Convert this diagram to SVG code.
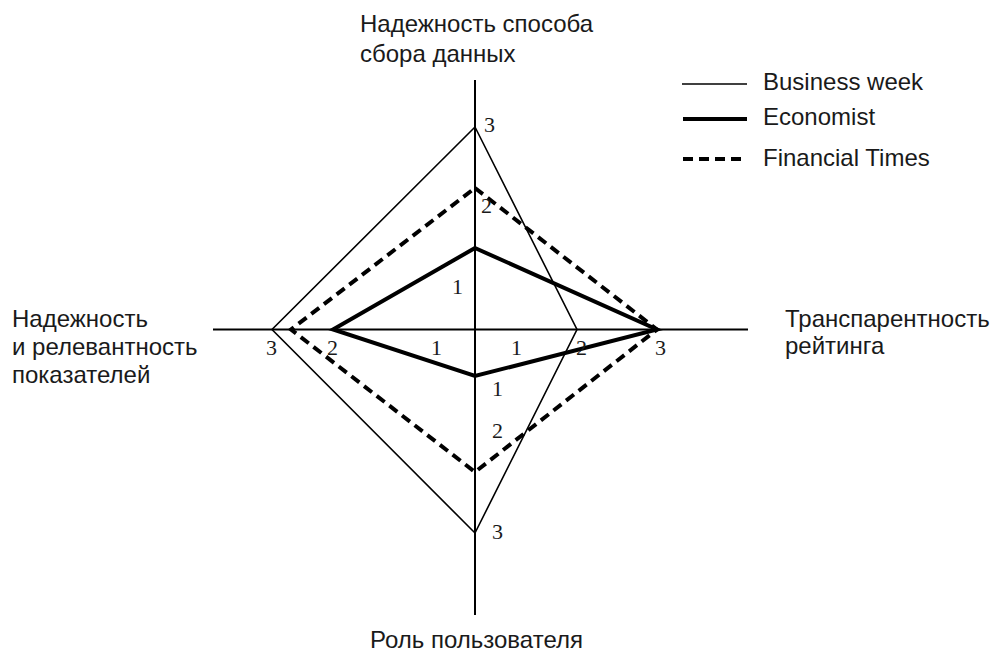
<svg xmlns="http://www.w3.org/2000/svg" width="997" height="653" viewBox="0 0 997 653">
<style>
.lbl{font-family:"Liberation Sans",Arial,sans-serif;font-size:24px;fill:#1a1a1a}
.num{font-family:"Liberation Serif","Times New Roman",serif;font-size:22px;fill:#1a1a1a}
.bw{fill:none;stroke:#000;stroke-width:1.6;stroke-linejoin:miter}
.ec{fill:none;stroke:#000;stroke-width:4;stroke-linejoin:miter}
.ft{fill:none;stroke:#000;stroke-width:4;stroke-dasharray:10 6}
.ax{stroke:#000;stroke-width:2}
</style>
<rect width="997" height="653" fill="#fff"/>
<g id="axes">
<line class="ax" x1="475" y1="80" x2="475" y2="615"/>
<line class="ax" x1="213" y1="329.5" x2="748" y2="329.5"/>
</g>
<g id="connectors">
<polygon id="businessweek" class="bw" points="475,127 577,329.5 475,533 272,329.5"/>
<polygon id="financialtimes" class="ft" points="475,188 657,329.5 475,472 291,329.5"/>
<polygon id="economist" class="ec" points="475,248 657,329.5 475,376 333,329.5"/>
</g>
<g id="axis-top"><text class="lbl" x="360" y="32">Надежность способа</text><text class="lbl" x="360" y="62">сбора данных</text></g>
<g id="axis-left"><text class="lbl" x="12" y="327">Надежность</text><text class="lbl" x="12" y="355">и релевантность</text><text class="lbl" x="12" y="383">показателей</text></g>
<g id="axis-right"><text class="lbl" x="785" y="327">Транспарентность</text><text class="lbl" x="785" y="354">рейтинга</text></g>
<g id="axis-bottom"><text class="lbl" x="370" y="648">Роль пользователя</text></g>
<g id="numbers">
<text class="num" x="484" y="132">3</text>
<text class="num" x="481" y="213">2</text>
<text class="num" x="452" y="294">1</text>
<text class="num" x="266" y="355">3</text>
<text class="num" x="327" y="355">2</text>
<text class="num" x="431" y="355">1</text>
<text class="num" x="511" y="355">1</text>
<text class="num" x="576" y="355">2</text>
<text class="num" x="655" y="355">3</text>
<text class="num" x="492" y="396">1</text>
<text class="num" x="492" y="438">2</text>
<text class="num" x="492" y="539">3</text>
</g>
<g id="legend">
<line x1="682" y1="84" x2="747" y2="84" stroke="#000" stroke-width="1.6"/>
<text class="lbl" x="763" y="90">Business week</text>
<line x1="683" y1="119" x2="747" y2="119" stroke="#000" stroke-width="4"/>
<text class="lbl" x="763" y="125">Economist</text>
<line x1="683" y1="159" x2="747" y2="159" stroke="#000" stroke-width="4" stroke-dasharray="10 6"/>
<text class="lbl" x="763" y="166">Financial Times</text>
</g>
</svg>
